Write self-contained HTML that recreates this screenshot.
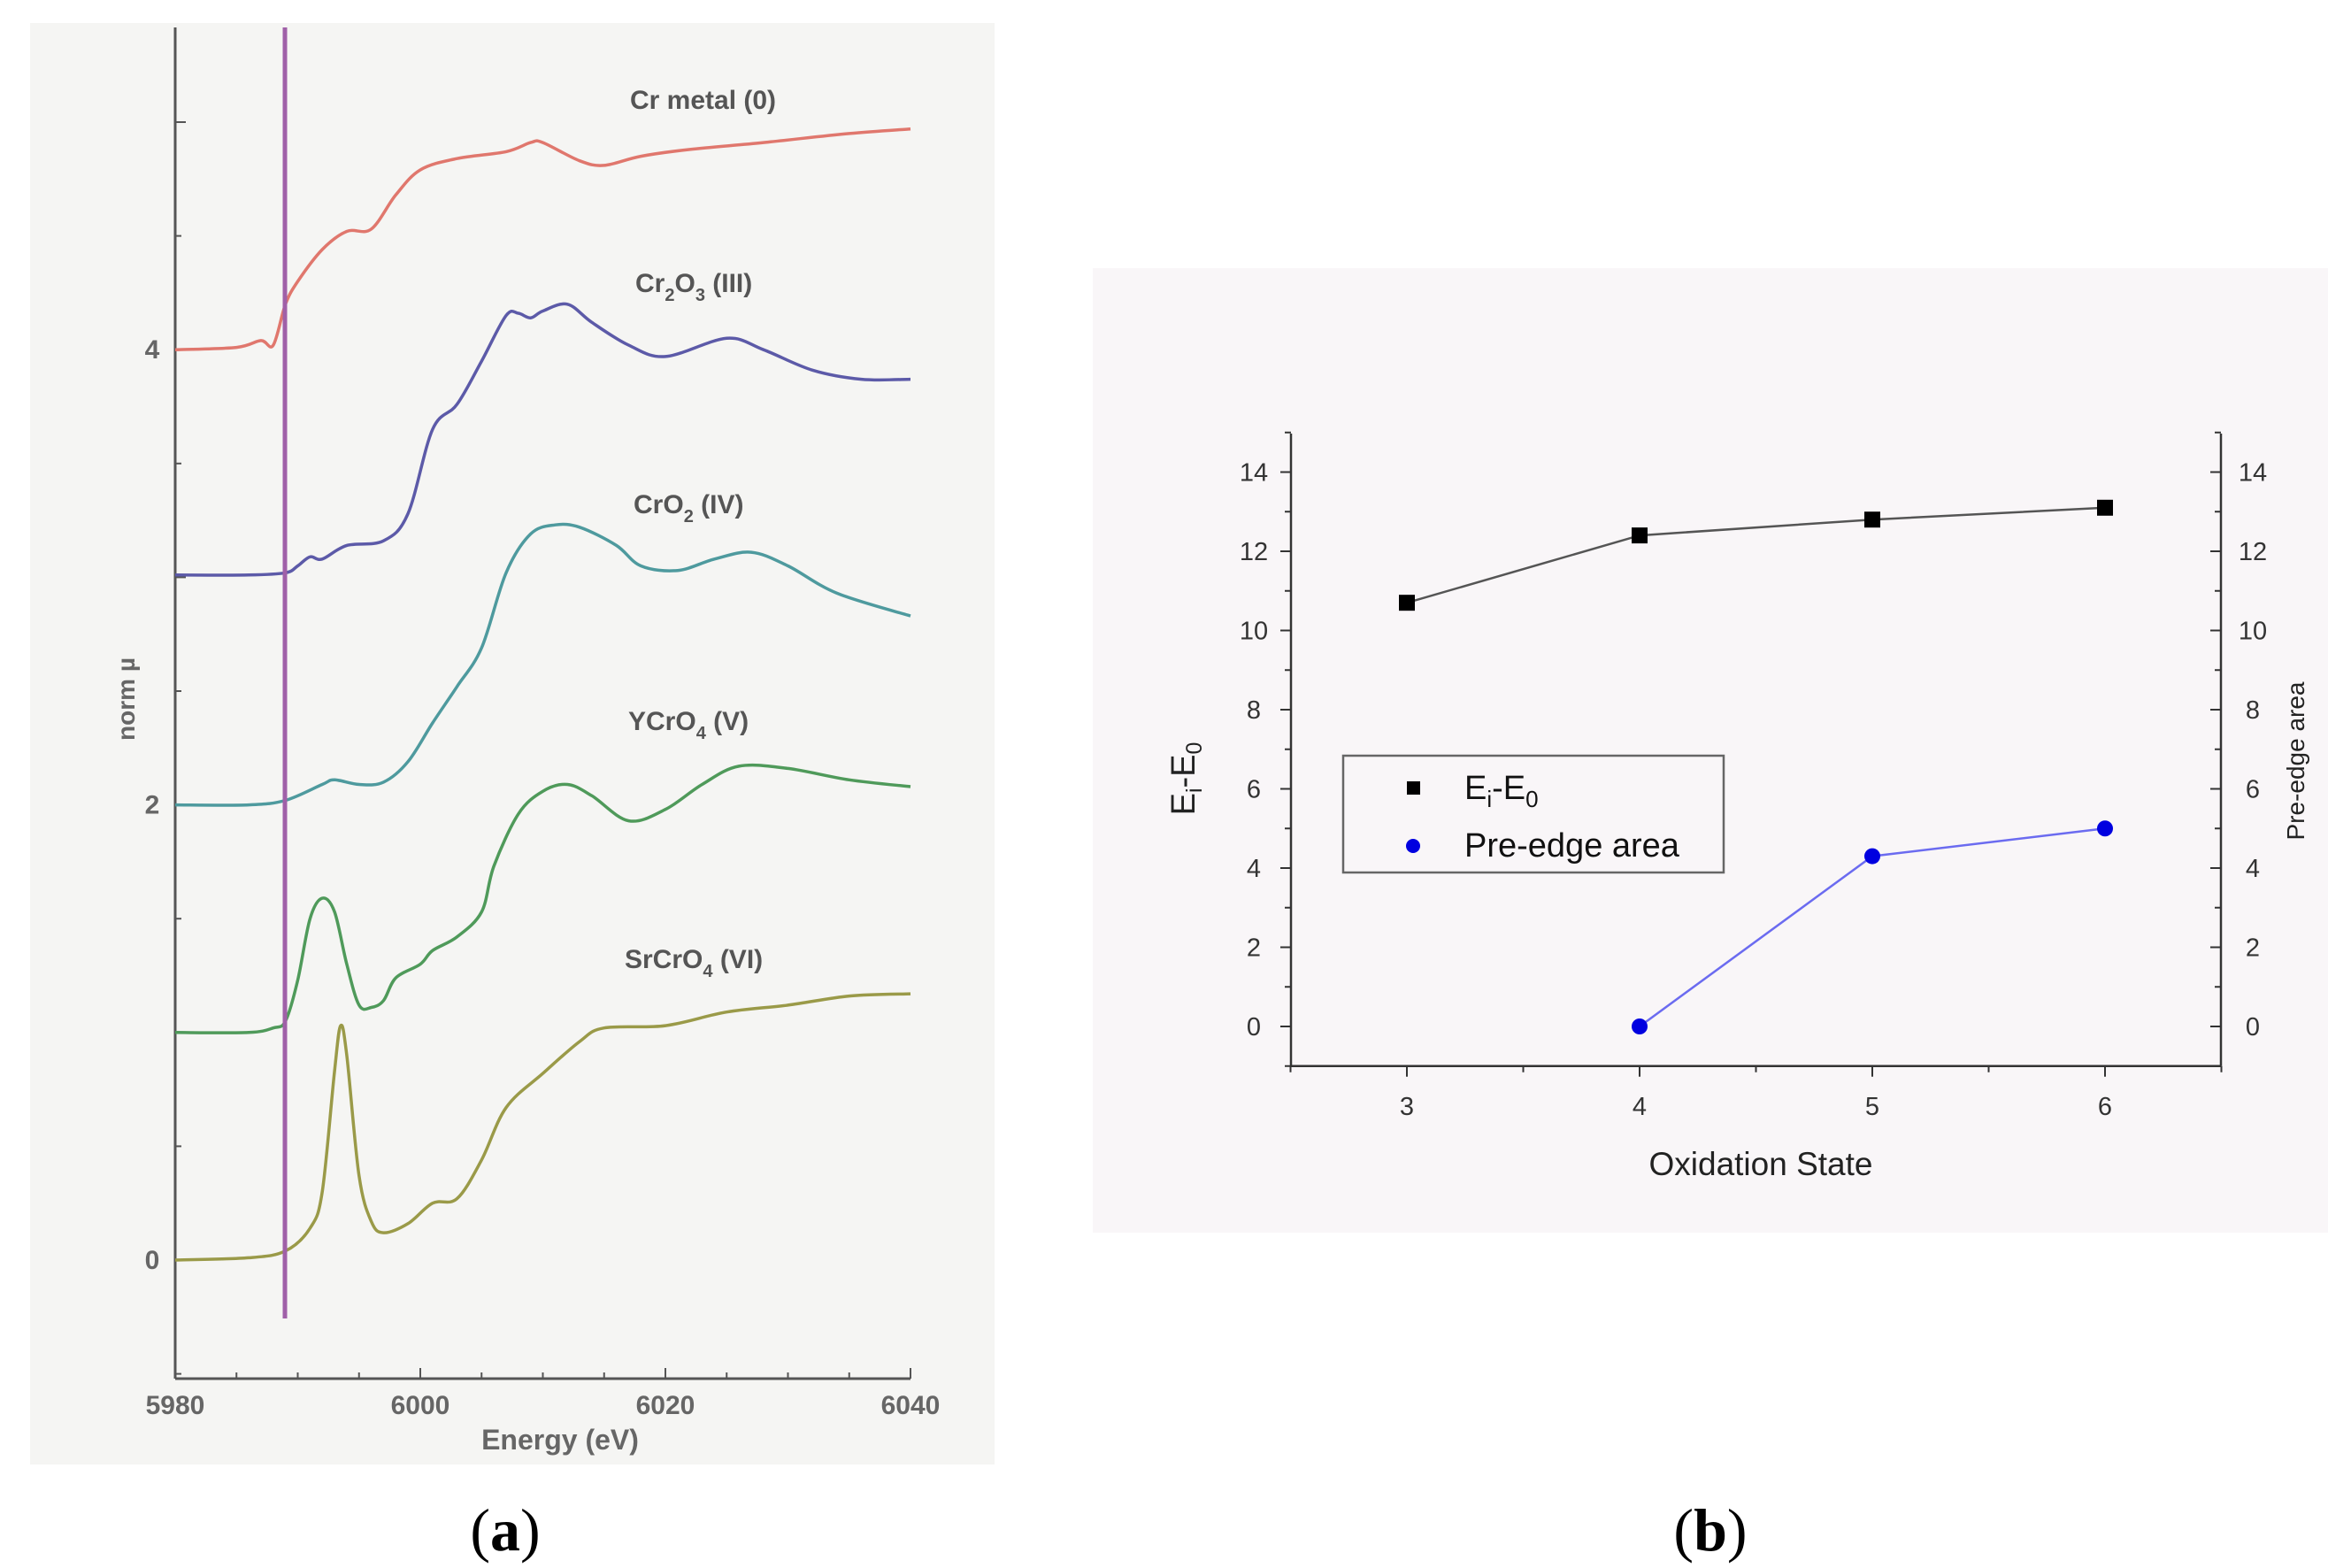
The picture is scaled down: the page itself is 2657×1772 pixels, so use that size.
<!DOCTYPE html>
<html><head><meta charset="utf-8"><style>
html,body{margin:0;padding:0;background:#fff;}
svg{display:block;font-family:"Liberation Sans",sans-serif;}
</style></head><body>
<svg id="fig" width="2657" height="1772" viewBox="0 0 2657 1772">
<rect x="34" y="26" width="1090" height="1629" fill="#f5f5f3"/>
<rect x="1235" y="303" width="1396" height="1090" fill="#f9f6f8"/>
<g id="pa"></g>
<g id="pb"></g>
<text x="571" y="1752" font-family="Liberation Serif,serif" font-size="68" text-anchor="middle" fill="#000">(<tspan font-weight="bold">a</tspan>)</text>
<text x="1933" y="1752" font-family="Liberation Serif,serif" font-size="68" text-anchor="middle" fill="#000">(<tspan font-weight="bold">b</tspan>)</text>
</svg>
<script>
// ---- Panel (a) data ----
const crMetalE  = [5980,5985,5987,5988,5989,5990,5992,5994,5996,5998,6000,6003,6007,6009,6010,6013,6015,6018,6022,6028,6035,6040];
const crMetalMu = [4.0,4.01,4.04,4.02,4.2,4.3,4.44,4.52,4.53,4.68,4.79,4.84,4.87,4.91,4.91,4.83,4.81,4.85,4.88,4.91,4.95,4.97];
const cr2o3E  = [5980,5986,5989,5990,5991,5992,5994,5997,5999,6001,6003,6005,6007,6008,6009,6010,6012,6014,6017,6020,6025,6028,6032,6036,6040];
const cr2o3Mu = [3.01,3.01,3.02,3.05,3.09,3.08,3.14,3.16,3.28,3.65,3.76,3.95,4.15,4.16,4.14,4.17,4.2,4.12,4.02,3.97,4.05,4.0,3.91,3.87,3.87];
const cro2E  = [5980,5986,5989,5992,5993,5995,5997,5999,6001,6003,6005,6007,6009,6011,6013,6016,6018,6021,6024,6027,6030,6034,6040];
const cro2Mu = [2.0,2.0,2.02,2.09,2.11,2.09,2.1,2.19,2.36,2.52,2.69,3.02,3.19,3.23,3.22,3.14,3.05,3.03,3.08,3.11,3.05,2.93,2.83];
const ycro4E  = [5980,5986,5988,5989,5990,5991,5992,5993,5994,5995,5996,5997,5998,6000,6001,6003,6005,6006,6008,6010,6012,6014,6017,6020,6023,6026,6030,6035,6040];
const ycro4Mu = [1.0,1.0,1.02,1.05,1.23,1.5,1.59,1.53,1.3,1.12,1.11,1.14,1.24,1.3,1.36,1.42,1.53,1.73,1.96,2.06,2.09,2.04,1.93,1.98,2.09,2.17,2.16,2.11,2.08];
const srcro4E  = [5980,5986,5989,5991,5992,5993,5993.5,5994,5995,5996,5997,5999,6001,6003,6005,6007,6010,6013,6015,6020,6025,6030,6035,6040];
const srcro4Mu = [0.0,0.01,0.04,0.14,0.3,0.83,1.03,0.9,0.37,0.17,0.12,0.16,0.25,0.27,0.44,0.67,0.82,0.96,1.02,1.03,1.09,1.12,1.16,1.17];
const aXTicks = [5980,6000,6020,6040];
const aYTicks = [0,2,4];
const seriesNames = ["Cr metal (0)","Cr2O3 (III)","CrO2 (IV)","YCrO4 (V)","SrCrO4 (VI)"];

// ---- Panel (b) data ----
const oxStates = [3,4,5,6];
const eiE0 = [10.7,12.4,12.8,13.1];
const preEdgeStates = [4,5,6];
const preEdgeArea = [0.0,4.3,5.0];
const bXTicks = [3,4,5,6];
const bYTicks = [0,2,4,6,8,10,12,14];

const NS="http://www.w3.org/2000/svg";
function mk(parent,tag,attrs,text){const e=document.createElementNS(NS,tag);for(const k in attrs)e.setAttribute(k,attrs[k]);if(text!==undefined)e.textContent=text;parent.appendChild(e);return e;}
function smooth(pts){let d="M"+pts[0][0].toFixed(1)+","+pts[0][1].toFixed(1);for(let i=0;i<pts.length-1;i++){const p0=pts[Math.max(0,i-1)],p1=pts[i],p2=pts[i+1],p3=pts[Math.min(pts.length-1,i+2)];const c1x=p1[0]+(p2[0]-p0[0])/6,c1y=p1[1]+(p2[1]-p0[1])/6,c2x=p2[0]-(p3[0]-p1[0])/6,c2y=p2[1]-(p3[1]-p1[1])/6;d+=" C"+c1x.toFixed(1)+","+c1y.toFixed(1)+" "+c2x.toFixed(1)+","+c2y.toFixed(1)+" "+p2[0].toFixed(1)+","+p2[1].toFixed(1);}return d;}

// Panel a
const pa=document.getElementById('pa');
const ax=v=>198+(v-5980)*(1029-198)/60;
const ay=v=>1424-v*257.2;
const axisCol="#555";
let el;
el=mk(pa,'line',{x1:198,y1:31,x2:198,y2:1558,stroke:axisCol,'stroke-width':3});


el=mk(pa,'line',{x1:198,y1:1558,x2:1029,y2:1558,stroke:axisCol,'stroke-width':3});


for(let v=5980;v<=6040;v+=5){const big=aXTicks.includes(v);mk(pa,'line',{x1:ax(v),y1:1558,x2:ax(v),y2:1558-(big?12:7),stroke:axisCol,'stroke-width':2});}
aXTicks.forEach(v=>{el=mk(pa,'text',{x:ax(v),y:1598,'font-size':30,'font-weight':'bold',fill:'#666','text-anchor':'middle'},String(v));

});
for(let v=-0.5;v<=5;v+=1){mk(pa,'line',{x1:198,y1:ay(v),x2:205,y2:ay(v),stroke:axisCol,'stroke-width':2});}
for(let v=0;v<=5;v+=1){mk(pa,'line',{x1:198,y1:ay(v),x2:210,y2:ay(v),stroke:axisCol,'stroke-width':2});}
aYTicks.forEach(v=>{el=mk(pa,'text',{x:172,y:ay(v)+10,'font-size':30,'font-weight':'bold',fill:'#666','text-anchor':'middle'},String(v));

});
el=mk(pa,'text',{x:633,y:1638,'font-size':32,'font-weight':'bold',fill:'#666','text-anchor':'middle'},'Energy (eV)');


el=mk(pa,'text',{x:0,y:0,'font-size':28,'font-weight':'bold',fill:'#666','text-anchor':'middle',transform:'translate(152,790) rotate(-90)'},'norm µ');


const aSeries=[[crMetalE,crMetalMu,'#e0776d'],[cr2o3E,cr2o3Mu,'#5c5aa8'],[cro2E,cro2Mu,'#4e9a9e'],[ycro4E,ycro4Mu,'#4f9a5a'],[srcro4E,srcro4Mu,'#9a9a48']];
aSeries.forEach((s,i)=>{const pts=s[0].map((e,j)=>[ax(e),ay(s[1][j])]);el=mk(pa,'path',{d:smooth(pts),fill:'none',stroke:s[2],'stroke-width':3.5});

});
el=mk(pa,'line',{x1:322,y1:31,x2:322,y2:1490,stroke:'#a060a8','stroke-width':5});


const lab=(x,y,html,name)=>{el=mk(pa,'text',{x:x,y:y,'font-size':30,'font-weight':'bold',fill:'#555'});el.innerHTML=html;

};
lab(712,123,'Cr metal (0)','label-cr-metal');
lab(718,330,'Cr<tspan font-size="20" dy="10">2</tspan><tspan dy="-10">O</tspan><tspan font-size="20" dy="10">3</tspan><tspan dy="-10">  (III)</tspan>','label-cr2o3');
lab(716,580,'CrO<tspan font-size="20" dy="10">2</tspan><tspan dy="-10">  (IV)</tspan>','label-cro2');
lab(710,825,'YCrO<tspan font-size="20" dy="10">4</tspan><tspan dy="-10">  (V)</tspan>','label-ycro4');
lab(706,1094,'SrCrO<tspan font-size="20" dy="10">4</tspan><tspan dy="-10"> (VI)</tspan>','label-srcro4');

// Panel b
const pb=document.getElementById('pb');
const bx=v=>1590+(v-3)*263;
const by=v=>1160-v*44.75;
const L=1459,R=2510,T=490,B=by(-1);
el=mk(pb,'line',{x1:L,y1:T,x2:L,y2:B,stroke:'#333','stroke-width':2.5});


el=mk(pb,'line',{x1:R,y1:T,x2:R,y2:B,stroke:'#333','stroke-width':2.5});


el=mk(pb,'line',{x1:L,y1:B,x2:R,y2:B,stroke:'#333','stroke-width':2.5});


for(let v=-1;v<=15;v++){const big=v%2===0;const w=big?12:7;mk(pb,'line',{x1:L,y1:by(v),x2:L-w,y2:by(v),stroke:'#333','stroke-width':2});mk(pb,'line',{x1:R,y1:by(v),x2:R-w,y2:by(v),stroke:'#333','stroke-width':2});}
for(let v=2.5;v<=6.5;v+=0.5){const big=Number.isInteger(v);mk(pb,'line',{x1:bx(v),y1:B,x2:bx(v),y2:B+(big?12:7),stroke:'#333','stroke-width':2});}
bYTicks.forEach(v=>{el=mk(pb,'text',{x:L-42,y:by(v)+10,'font-size':29,fill:'#333','text-anchor':'middle'},String(v));


el=mk(pb,'text',{x:R+36,y:by(v)+10,'font-size':29,fill:'#333','text-anchor':'middle'},String(v));

});
bXTicks.forEach(v=>{el=mk(pb,'text',{x:bx(v),y:B+55,'font-size':29,fill:'#333','text-anchor':'middle'},String(v));

});
el=mk(pb,'text',{x:1990,y:1328,'font-size':37,fill:'#222','text-anchor':'middle'},'Oxidation State');


el=mk(pb,'text',{x:0,y:0,'font-size':38,fill:'#222','text-anchor':'middle',transform:'translate(1350,880) rotate(-90)'});
el.innerHTML='E<tspan font-size="25" dy="8">i</tspan><tspan dy="-8">-E</tspan><tspan font-size="25" dy="8">0</tspan>';


el=mk(pb,'text',{x:0,y:0,'font-size':28,fill:'#222','text-anchor':'middle',transform:'translate(2604,860) rotate(-90)'},'Pre-edge area');


el=mk(pb,'polyline',{points:oxStates.map((s,i)=>bx(s)+','+by(eiE0[i])).join(' '),fill:'none',stroke:'#555','stroke-width':2.5});


oxStates.forEach((s,i)=>{el=mk(pb,'rect',{x:bx(s)-9,y:by(eiE0[i])-9,width:18,height:18,fill:'#000'});

});
el=mk(pb,'polyline',{points:preEdgeStates.map((s,i)=>bx(s)+','+by(preEdgeArea[i])).join(' '),fill:'none',stroke:'#6b6bf0','stroke-width':2.5});


preEdgeStates.forEach((s,i)=>{el=mk(pb,'circle',{cx:bx(s),cy:by(preEdgeArea[i]),r:9,fill:'#0000e0'});

});
// legend
const lg=mk(pb,'g',{});


mk(lg,'rect',{x:1518,y:854,width:430,height:132,fill:'none',stroke:'#666','stroke-width':2.5});
mk(lg,'rect',{x:1590,y:883,width:15,height:15,fill:'#000'});
el=mk(lg,'text',{x:1655,y:903,'font-size':38,fill:'#111'});
el.innerHTML='E<tspan font-size="26" dy="9">i</tspan><tspan dy="-9">-E</tspan><tspan font-size="26" dy="9">0</tspan>';


mk(lg,'circle',{cx:1597,cy:956,r:8,fill:'#0000e0'});
el=mk(lg,'text',{x:1655,y:968,'font-size':38,fill:'#111'},'Pre-edge area');


</script>
</body></html>
